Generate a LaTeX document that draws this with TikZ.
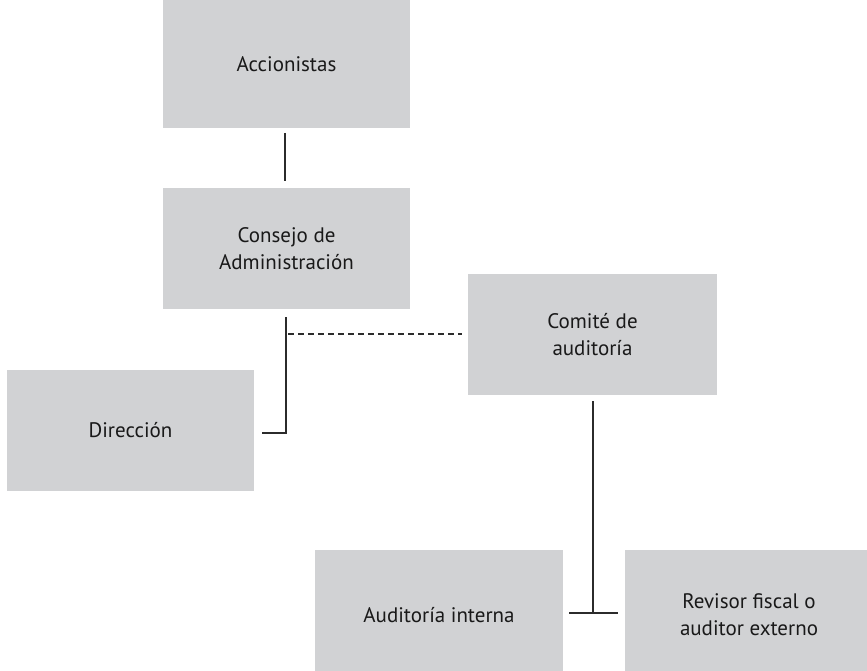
\documentclass[tikz,border=0pt]{standalone}
\usepackage{fontspec}
\setmainfont{PT Sans}
\definecolor{boxgray}{HTML}{D1D2D4}
\definecolor{linegray}{HTML}{2B2B2B}
\tikzset{
  orgbox/.style={fill=boxgray, draw=none, inner sep=0pt, align=center,
    font=\fontsize{21}{27}\selectfont, text=black!90},
  conn/.style={draw=linegray, line width=1.3pt},
  dconn/.style={draw=linegray, line width=1.2pt, dash pattern=on 6pt off 4pt}
}
\begin{document}
\begin{tikzpicture}[x=1pt,y=-1pt]
\useasboundingbox (0,0) rectangle (867,671);
\node[orgbox, minimum width=247pt, minimum height=128pt] (acc) at (286.5,64) {Accionistas};
\node[orgbox, minimum width=247pt, minimum height=121pt] (con) at (286.5,248.5) {Consejo de\\Administración};
\node[orgbox, minimum width=249pt, minimum height=121pt] (com) at (592.5,334.5) {Comité de\\auditoría};
\node[orgbox, minimum width=247pt, minimum height=121pt] (dir) at (130.5,430.5) {Dirección};
\node[orgbox, minimum width=248pt, minimum height=130pt] (ai) at (439,615) {Auditoría interna};
\node[orgbox, minimum width=248pt, minimum height=130pt] (rf) at (749,615) {Revisor fiscal o\\auditor externo};
% connectors
\coordinate (a1) at (285,133);
\coordinate (a2) at (285,181);
\draw[conn] (a1) -- (a2);
\coordinate (c1) at (286,317);
\coordinate (c2) at (286,433);
\coordinate (d1) at (262,433);
\draw[conn] (c1) -- (c2) -- (d1);
\coordinate (ds1) at (288,334);
\coordinate (ds2) at (462,334);
\draw[dconn] (ds1) -- (ds2);
\coordinate (m1) at (593,401);
\coordinate (m2) at (593,613);
\coordinate (h1) at (569,613);
\coordinate (h2) at (618,613);
\draw[conn] (m1) -- (m2);
\draw[conn] (h1) -- (h2);
\end{tikzpicture}
\end{document}
